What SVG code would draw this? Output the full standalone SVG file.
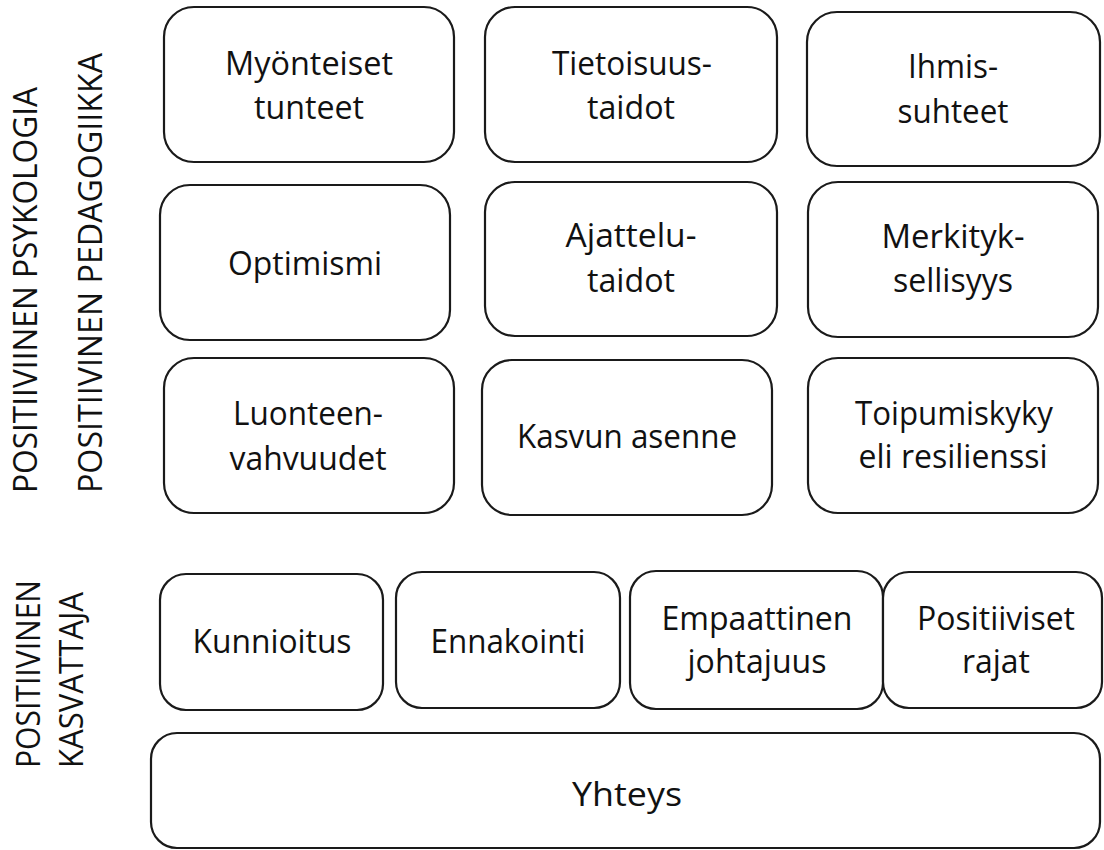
<svg xmlns="http://www.w3.org/2000/svg" width="1104" height="850" viewBox="0 0 1104 850">
<style>
.box{fill:#fff;stroke:#1a1a1a;stroke-width:2.2}
.t{font-family:"Open Sans","Liberation Sans",sans-serif;font-size:32px;fill:#111;text-anchor:middle}
.v{font-family:"Open Sans","Liberation Sans",sans-serif;font-size:32px;fill:#111}
</style>
<rect width="1104" height="850" fill="#fff"/>
<g id="labels">
<text class="v" transform="translate(37,493) rotate(-90)" textLength="406" lengthAdjust="spacingAndGlyphs">POSITIIVIINEN PSYKOLOGIA</text>
<text class="v" transform="translate(102,493) rotate(-90)" textLength="440" lengthAdjust="spacingAndGlyphs">POSITIIVINEN PEDAGOGIIKKA</text>
<text class="v" transform="translate(40,768) rotate(-90)" textLength="188" lengthAdjust="spacingAndGlyphs">POSITIIVINEN</text>
<text class="v" transform="translate(83,768) rotate(-90)" textLength="176" lengthAdjust="spacingAndGlyphs">KASVATTAJA</text>
</g>
<g id="n1"><rect class="box" x="164" y="7" width="290" height="155" rx="30"/>
<text class="t" x="309" y="75" textLength="168" lengthAdjust="spacingAndGlyphs">Myönteiset</text>
<text class="t" x="309" y="119" textLength="110" lengthAdjust="spacingAndGlyphs">tunteet</text></g>
<g id="n2"><rect class="box" x="485" y="7" width="292" height="155" rx="30"/>
<text class="t" x="632" y="75" textLength="160" lengthAdjust="spacingAndGlyphs">Tietoisuus-</text>
<text class="t" x="631" y="119" textLength="88" lengthAdjust="spacingAndGlyphs">taidot</text></g>
<g id="n3"><rect class="box" x="807" y="12" width="293" height="154" rx="30"/>
<text class="t" x="953" y="78" textLength="90" lengthAdjust="spacingAndGlyphs">Ihmis-</text>
<text class="t" x="953" y="123" textLength="111" lengthAdjust="spacingAndGlyphs">suhteet</text></g>
<g id="n4"><rect class="box" x="160" y="185" width="290" height="155" rx="30"/>
<text class="t" x="305" y="275" textLength="154" lengthAdjust="spacingAndGlyphs">Optimismi</text></g>
<g id="n5"><rect class="box" x="485" y="182" width="292" height="154" rx="30"/>
<text class="t" x="631" y="247" textLength="131" lengthAdjust="spacingAndGlyphs">Ajattelu-</text>
<text class="t" x="631" y="292" textLength="88" lengthAdjust="spacingAndGlyphs">taidot</text></g>
<g id="n6"><rect class="box" x="808" y="182" width="290" height="155" rx="30"/>
<text class="t" x="953" y="248" textLength="143" lengthAdjust="spacingAndGlyphs">Merkityk-</text>
<text class="t" x="953" y="292" textLength="120" lengthAdjust="spacingAndGlyphs">sellisyys</text></g>
<g id="n7"><rect class="box" x="164" y="358" width="290" height="155" rx="30"/>
<text class="t" x="308" y="425" textLength="150" lengthAdjust="spacingAndGlyphs">Luonteen-</text>
<text class="t" x="308" y="470" textLength="157" lengthAdjust="spacingAndGlyphs">vahvuudet</text></g>
<g id="n8"><rect class="box" x="482" y="360" width="290" height="155" rx="30"/>
<text class="t" x="627" y="448" textLength="220" lengthAdjust="spacingAndGlyphs">Kasvun asenne</text></g>
<g id="n9"><rect class="box" x="808" y="358" width="290" height="155" rx="30"/>
<text class="t" x="954" y="425" textLength="198" lengthAdjust="spacingAndGlyphs">Toipumiskyky</text>
<text class="t" x="953" y="468" textLength="189" lengthAdjust="spacingAndGlyphs">eli resilienssi</text></g>
<g id="n10"><rect class="box" x="160" y="574" width="223" height="136" rx="26"/>
<text class="t" x="272" y="653" textLength="159" lengthAdjust="spacingAndGlyphs">Kunnioitus</text></g>
<g id="n11"><rect class="box" x="396" y="572" width="224" height="136" rx="26"/>
<text class="t" x="508" y="653" textLength="155" lengthAdjust="spacingAndGlyphs">Ennakointi</text></g>
<g id="n12"><rect class="box" x="630" y="571" width="253" height="138" rx="26"/>
<text class="t" x="757" y="630" textLength="191" lengthAdjust="spacingAndGlyphs">Empaattinen</text>
<text class="t" x="757" y="673" textLength="139" lengthAdjust="spacingAndGlyphs">johtajuus</text></g>
<g id="n13"><rect class="box" x="883" y="572" width="219" height="136" rx="26"/>
<text class="t" x="996" y="630" textLength="158" lengthAdjust="spacingAndGlyphs">Positiiviset</text>
<text class="t" x="996" y="673" textLength="68" lengthAdjust="spacingAndGlyphs">rajat</text></g>
<g id="n14"><rect class="box" x="151" y="733" width="949" height="115" rx="26"/>
<text class="t" x="627" y="806" textLength="110" lengthAdjust="spacingAndGlyphs">Yhteys</text></g>
<g id="connectors"></g>
</svg>
